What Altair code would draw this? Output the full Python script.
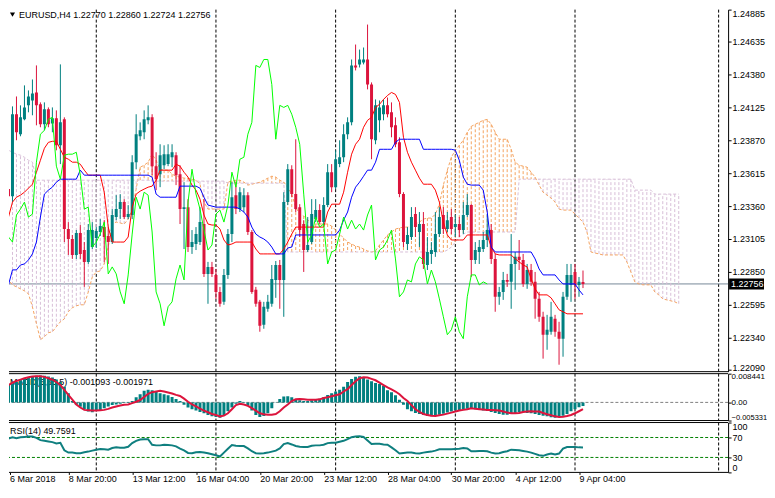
import altair as alt
import pandas as pd

symbol = "EURUSD,H4"

# ---------------- candles (bar index 0 = 6 Mar 2018 04:00, H4) ----------------
opens = [
    1.23600, 1.23492, 1.23437, 1.24073, 1.23918, 1.24034, 1.24142, 1.24180, 1.24242, 1.24150,
    1.23995, 1.24111, 1.24002, 1.24042, 1.23832, 1.24034, 1.23182, 1.23105, 1.22981, 1.23151,
    1.23019, 1.22927, 1.23042, 1.23113, 1.23159, 1.23197, 1.23128, 1.23081, 1.23275, 1.23337,
    1.23391, 1.23275, 1.23291, 1.23701, 1.23902, 1.23933, 1.24026, 1.24049, 1.23670, 1.23608,
    1.23677, 1.23686, 1.23739, 1.23755, 1.23608, 1.23337, 1.23352, 1.23042, 1.23066, 1.23081,
    1.23221, 1.22834, 1.22888, 1.22826, 1.22694, 1.22617, 1.22826, 1.23143, 1.23445, 1.23337,
    1.23352, 1.23445, 1.23159, 1.22710, 1.22617, 1.22439, 1.22563, 1.22602, 1.22787, 1.22903,
    1.22787, 1.23391, 1.23646, 1.23453, 1.23352, 1.23221, 1.23019, 1.23081, 1.23259, 1.23329,
    1.23236, 1.23368, 1.23623, 1.23507, 1.23686, 1.23739, 1.23918, 1.24010, 1.24452, 1.24460,
    1.24475, 1.24498, 1.24304, 1.23871, 1.24026, 1.24073, 1.24142, 1.24088, 1.23987, 1.23855,
    1.23453, 1.23066, 1.23120, 1.23298, 1.23159, 1.23221, 1.22903, 1.22989, 1.23004, 1.23143,
    1.23291, 1.23182, 1.23275, 1.23197, 1.23221, 1.23174, 1.23291, 1.23368, 1.22942, 1.23004,
    1.23027, 1.23097, 1.23174, 1.22950, 1.22656, 1.22694, 1.22787, 1.22772, 1.22911, 1.22966,
    1.22942, 1.22756, 1.22864, 1.22772, 1.22640, 1.22501, 1.22362, 1.22385, 1.22486, 1.22385,
    1.22331, 1.22656, 1.22748, 1.22849, 1.22748, 1.22770,
]
highs = [
    1.23623, 1.23546, 1.24134, 1.24211, 1.24142, 1.24297, 1.24258, 1.24343, 1.24452, 1.24165,
    1.24165, 1.24126, 1.24126, 1.24103, 1.24460, 1.24049, 1.23236, 1.23136, 1.23174, 1.23213,
    1.23081, 1.23221, 1.23236, 1.23197, 1.23259, 1.23251, 1.23197, 1.23337, 1.23445, 1.23453,
    1.23414, 1.23368, 1.23755, 1.24073, 1.24010, 1.24103, 1.24142, 1.24073, 1.23778, 1.23840,
    1.23832, 1.23840, 1.23840, 1.23778, 1.23677, 1.23546, 1.23414, 1.23174, 1.23197, 1.23352,
    1.23414, 1.22927, 1.22927, 1.22872, 1.22733, 1.22872, 1.23182, 1.23546, 1.23546, 1.23507,
    1.23499, 1.23468, 1.23174, 1.22733, 1.22632, 1.22617, 1.22671, 1.22903, 1.22934, 1.22942,
    1.23468, 1.23686, 1.23677, 1.23879, 1.23375, 1.23251, 1.23275, 1.23414, 1.23414, 1.23375,
    1.23429, 1.23686, 1.23686, 1.23793, 1.23871, 1.23995, 1.24049, 1.24498, 1.24614, 1.24575,
    1.24591, 1.24769, 1.24320, 1.24188, 1.24180, 1.24188, 1.24203, 1.24165, 1.24049, 1.23894,
    1.23468, 1.23197, 1.23352, 1.23352, 1.23314, 1.23314, 1.23120, 1.23081, 1.23314, 1.23352,
    1.23352, 1.23314, 1.23337, 1.23291, 1.23275, 1.23391, 1.23453, 1.23375, 1.23081, 1.23097,
    1.23159, 1.23298, 1.23221, 1.22989, 1.22733, 1.22849, 1.22834, 1.23143, 1.23004, 1.23097,
    1.22989, 1.22911, 1.22911, 1.22849, 1.22694, 1.22540, 1.22516, 1.22617, 1.22516, 1.22462,
    1.22694, 1.22911, 1.22911, 1.22911, 1.22810, 1.22860,
]
lows = [
    1.23406, 1.23352, 1.23391, 1.23871, 1.23902, 1.24026, 1.24088, 1.24065, 1.23987, 1.23972,
    1.23948, 1.23972, 1.23933, 1.23793, 1.23686, 1.23081, 1.22981, 1.22950, 1.22950, 1.22950,
    1.22733, 1.22911, 1.23027, 1.23035, 1.23128, 1.22927, 1.22911, 1.23066, 1.23251, 1.23259,
    1.23259, 1.23259, 1.23259, 1.23646, 1.23871, 1.23879, 1.23995, 1.23600, 1.23484, 1.23507,
    1.23646, 1.23670, 1.23662, 1.23523, 1.23221, 1.23027, 1.23004, 1.22989, 1.23019, 1.23058,
    1.22810, 1.22602, 1.22810, 1.22640, 1.22579, 1.22594, 1.22795, 1.23081, 1.23298, 1.23314,
    1.23314, 1.23136, 1.22679, 1.22579, 1.22385, 1.22408, 1.22540, 1.22579, 1.22648, 1.22563,
    1.22501, 1.23368, 1.23429, 1.23314, 1.23120, 1.22849, 1.23004, 1.23066, 1.23236, 1.23221,
    1.23213, 1.23352, 1.23468, 1.23492, 1.23662, 1.23701, 1.23879, 1.23987, 1.24413, 1.24436,
    1.24460, 1.24266, 1.23724, 1.23840, 1.23933, 1.24026, 1.24049, 1.23894, 1.23817, 1.23429,
    1.23042, 1.23019, 1.23097, 1.23120, 1.23042, 1.22872, 1.22864, 1.22911, 1.22966, 1.23120,
    1.23143, 1.23159, 1.23143, 1.23120, 1.23120, 1.23143, 1.23275, 1.22810, 1.22911, 1.22911,
    1.23004, 1.23042, 1.22911, 1.22540, 1.22594, 1.22632, 1.22733, 1.22563, 1.22710, 1.22864,
    1.22733, 1.22718, 1.22741, 1.22486, 1.22462, 1.22176, 1.22245, 1.22362, 1.22346, 1.22129,
    1.22191, 1.22632, 1.22617, 1.22640, 1.22656, 1.22724,
]
closes = [
    1.23429, 1.23437, 1.24073, 1.23933, 1.24049, 1.24126, 1.24211, 1.24234, 1.24142, 1.23995,
    1.24111, 1.23995, 1.24042, 1.23832, 1.24010, 1.23182, 1.23105, 1.22981, 1.23151, 1.22989,
    1.22927, 1.23174, 1.23174, 1.23166, 1.23205, 1.23120, 1.23081, 1.23291, 1.23337, 1.23391,
    1.23275, 1.23298, 1.23701, 1.23918, 1.23948, 1.24034, 1.24049, 1.23670, 1.23569, 1.23755,
    1.23763, 1.23763, 1.23778, 1.23600, 1.23337, 1.23352, 1.23042, 1.23081, 1.23143, 1.23236,
    1.22834, 1.22888, 1.22834, 1.22694, 1.22602, 1.22826, 1.23143, 1.23429, 1.23337, 1.23468,
    1.23445, 1.23159, 1.22694, 1.22602, 1.22431, 1.22579, 1.22617, 1.22795, 1.22903, 1.22787,
    1.23391, 1.23646, 1.23453, 1.23337, 1.23174, 1.23019, 1.23058, 1.23298, 1.23329, 1.23236,
    1.23368, 1.23623, 1.23507, 1.23724, 1.23739, 1.23918, 1.24010, 1.24452, 1.24436, 1.24498,
    1.24498, 1.24304, 1.23879, 1.24142, 1.24126, 1.24142, 1.24073, 1.23972, 1.23840, 1.23453,
    1.23081, 1.23136, 1.23275, 1.23197, 1.23221, 1.22911, 1.23004, 1.23019, 1.23143, 1.23275,
    1.23182, 1.23251, 1.23182, 1.23221, 1.23174, 1.23291, 1.23368, 1.22942, 1.23019, 1.23042,
    1.23097, 1.23174, 1.22950, 1.22656, 1.22694, 1.22787, 1.22772, 1.22911, 1.22966, 1.22942,
    1.22756, 1.22864, 1.22772, 1.22640, 1.22501, 1.22362, 1.22400, 1.22501, 1.22385, 1.22331,
    1.22656, 1.22826, 1.22826, 1.22748, 1.22772, 1.22756,
]

# ---------------- Ichimoku ----------------
tenkan = [
    1.23081, 1.23275, 1.23391, 1.23429, 1.23445, 1.23468, 1.23499, 1.23530, 1.23623, 1.23716,
    1.23809, 1.23855, 1.23863, 1.23863, 1.23801, 1.23739, 1.23724, 1.23701, 1.23701, 1.23685,
    1.23639, 1.23600, 1.23600, 1.23600, 1.23600, 1.23468, 1.23197, 1.23081, 1.23081, 1.23081,
    1.23081, 1.23120, 1.23352, 1.23453, 1.23476, 1.23492, 1.23507, 1.23515, 1.23561, 1.23639,
    1.23639, 1.23639, 1.23639, 1.23685, 1.23670, 1.23623, 1.23585, 1.23523, 1.23484, 1.23414,
    1.23291, 1.23221, 1.23213, 1.23213, 1.23182, 1.23097, 1.23058, 1.23066, 1.23081, 1.23081,
    1.23081, 1.23081, 1.23081, 1.23027, 1.22989, 1.22989, 1.22989, 1.22989, 1.22989, 1.22989,
    1.23027, 1.23081, 1.23143, 1.23197, 1.23197, 1.23197, 1.23197, 1.23197, 1.23197, 1.23197,
    1.23197, 1.23314, 1.23375, 1.23375, 1.23375, 1.23468, 1.23623, 1.23763, 1.23840, 1.23879,
    1.23972, 1.24026, 1.24049, 1.24126, 1.24150, 1.24188, 1.24219, 1.24242, 1.24227, 1.24165,
    1.23894, 1.23778, 1.23701, 1.23639, 1.23577, 1.23530, 1.23530, 1.23530, 1.23484, 1.23391,
    1.23236, 1.23136, 1.23097, 1.23097, 1.23097, 1.23097, 1.23136, 1.23136, 1.23136, 1.23136,
    1.23136, 1.23136, 1.23042, 1.22989, 1.22981, 1.22981, 1.22981, 1.22981, 1.22950, 1.22927,
    1.22903, 1.22888, 1.22795, 1.22718, 1.22671, 1.22671, 1.22671, 1.22648, 1.22602, 1.22555,
    1.22540, 1.22524, 1.22524, 1.22524, 1.22524, 1.22524,
]
kijun = [
    1.22594, 1.22749, 1.22865, 1.22865, 1.22903, 1.22911, 1.22942, 1.22989, 1.23081, 1.23275,
    1.23453, 1.23484, 1.23507, 1.23546, 1.23569, 1.23569, 1.23569, 1.23569, 1.23569, 1.23639,
    1.23600, 1.23600, 1.23600, 1.23600, 1.23600, 1.23600, 1.23600, 1.23600, 1.23600, 1.23600,
    1.23600, 1.23600, 1.23600, 1.23600, 1.23600, 1.23600, 1.23600, 1.23585, 1.23453, 1.23429,
    1.23429, 1.23429, 1.23429, 1.23429, 1.23515, 1.23515, 1.23515, 1.23515, 1.23515, 1.23499,
    1.23429, 1.23368, 1.23360, 1.23352, 1.23352, 1.23352, 1.23352, 1.23352, 1.23352, 1.23337,
    1.23314, 1.23275, 1.23197, 1.23143, 1.23120, 1.23105, 1.23081, 1.23042, 1.22989, 1.22989,
    1.22989, 1.23035, 1.23042, 1.23136, 1.23136, 1.23136, 1.23136, 1.23136, 1.23136, 1.23136,
    1.23136, 1.23136, 1.23136, 1.23136, 1.23174, 1.23252, 1.23314, 1.23429, 1.23507, 1.23546,
    1.23592, 1.23639, 1.23639, 1.23701, 1.23801, 1.23801, 1.23801, 1.23801, 1.23855, 1.23879,
    1.23879, 1.23879, 1.23879, 1.23879, 1.23879, 1.23801, 1.23801, 1.23801, 1.23801, 1.23801,
    1.23801, 1.23801, 1.23801, 1.23794, 1.23716, 1.23585, 1.23530, 1.23523, 1.23523, 1.23523,
    1.23484, 1.23314, 1.23042, 1.23004, 1.23004, 1.23004, 1.23004, 1.23004, 1.23004, 1.23004,
    1.23004, 1.23004, 1.23004, 1.22950, 1.22872, 1.22826, 1.22826, 1.22826, 1.22826, 1.22787,
    1.22756, 1.22756, 1.22756, 1.22756, 1.22710, 1.22671,
]
chikou = [
    1.23205, 1.23120, 1.23081, 1.23291, 1.23337, 1.23391, 1.23275, 1.23298, 1.23701, 1.23918,
    1.23948, 1.24034, 1.24049, 1.23670, 1.23569, 1.23755, 1.23763, 1.23763, 1.23778, 1.23600,
    1.23337, 1.23352, 1.23042, 1.23081, 1.23143, 1.23236, 1.22834, 1.22888, 1.22834, 1.22694,
    1.22602, 1.22826, 1.23143, 1.23429, 1.23337, 1.23468, 1.23445, 1.23159, 1.22694, 1.22602,
    1.22431, 1.22579, 1.22617, 1.22795, 1.22903, 1.22787, 1.23391, 1.23646, 1.23453, 1.23337,
    1.23174, 1.23019, 1.23058, 1.23298, 1.23329, 1.23236, 1.23368, 1.23623, 1.23507, 1.23724,
    1.23739, 1.23918, 1.24010, 1.24452, 1.24436, 1.24498, 1.24498, 1.24304, 1.23879, 1.24142,
    1.24126, 1.24142, 1.24073, 1.23972, 1.23840, 1.23453, 1.23081, 1.23136, 1.23275, 1.23197,
    1.23221, 1.22911, 1.23004, 1.23019, 1.23143, 1.23275, 1.23182, 1.23251, 1.23182, 1.23221,
    1.23174, 1.23291, 1.23368, 1.22942, 1.23019, 1.23042, 1.23097, 1.23174, 1.22950, 1.22656,
    1.22694, 1.22787, 1.22772, 1.22911, 1.22966, 1.22942, 1.22756, 1.22864, 1.22772, 1.22640,
    1.22501, 1.22362, 1.22400, 1.22501, 1.22385, 1.22331, 1.22656, 1.22826, 1.22826, 1.22748,
    1.22772, 1.22756,
]
senkou_a = [
    1.22834, 1.22787, 1.22749, 1.22733, 1.22718, 1.22702, 1.22679, 1.22578, 1.22447, 1.22323,
    1.22346, 1.22377, 1.22385, 1.22424, 1.22462, 1.22485, 1.22540, 1.22571, 1.22586, 1.22594,
    1.22594, 1.22694, 1.22810, 1.22849, 1.22857, 1.22911, 1.23042, 1.23221, 1.23236, 1.23229,
    1.23221, 1.23259, 1.23337, 1.23492, 1.23662, 1.23677, 1.23701, 1.23763, 1.23716, 1.23646,
    1.23639, 1.23639, 1.23608, 1.23592, 1.23585, 1.23577, 1.23577, 1.23569, 1.23561, 1.23530,
    1.23391, 1.23337, 1.23337, 1.23337, 1.23337, 1.23337, 1.23546, 1.23554, 1.23561, 1.23561,
    1.23546, 1.23523, 1.23530, 1.23538, 1.23546, 1.23561, 1.23577, 1.23592, 1.23585, 1.23561,
    1.23546, 1.23507, 1.23453, 1.23352, 1.23298, 1.23283, 1.23252, 1.23236, 1.23221, 1.23221,
    1.23221, 1.23221, 1.23205, 1.23174, 1.23143, 1.23112, 1.23081, 1.23066, 1.23050, 1.23042,
    1.23027, 1.23012, 1.23004, 1.23012, 1.23058, 1.23097, 1.23136, 1.23159, 1.23182, 1.23190,
    1.23197, 1.23197, 1.23205, 1.23221, 1.23236, 1.23259, 1.23267, 1.23267, 1.23298, 1.23375,
    1.23523, 1.23639, 1.23739, 1.23794, 1.23832, 1.23871, 1.23933, 1.23979, 1.23995, 1.24010,
    1.24026, 1.24033, 1.23995, 1.23933, 1.23879, 1.23879, 1.23879, 1.23801, 1.23701, 1.23677,
    1.23670, 1.23662, 1.23623, 1.23585, 1.23523, 1.23468, 1.23445, 1.23422, 1.23391, 1.23337,
    1.23329, 1.23329, 1.23329, 1.23298, 1.23267, 1.23236, 1.23159, 1.23004, 1.22996, 1.22989,
    1.22981, 1.22981, 1.22981, 1.22981, 1.22981, 1.22981, 1.22927, 1.22849, 1.22772, 1.22756,
    1.22749, 1.22749, 1.22749, 1.22694, 1.22671, 1.22640, 1.22632, 1.22625, 1.22617, 1.22602,
]
senkou_b = [
    1.23801, 1.23794, 1.23778, 1.23763, 1.23755, 1.23739, 1.23716, 1.23701, 1.23561, 1.23561,
    1.23561, 1.23561, 1.23561, 1.23561, 1.23561, 1.23561, 1.23561, 1.23561, 1.23561, 1.23561,
    1.23561, 1.23561, 1.23561, 1.23561, 1.23561, 1.23561, 1.23561, 1.23561, 1.23561, 1.23561,
    1.23561, 1.23561, 1.23561, 1.23561, 1.23561, 1.23561, 1.23561, 1.23554, 1.23554, 1.23554,
    1.23554, 1.23554, 1.23554, 1.23554, 1.23554, 1.23554, 1.23554, 1.23554, 1.23554, 1.23554,
    1.23554, 1.23554, 1.23554, 1.23554, 1.23554, 1.23554, 1.23538, 1.23538, 1.23538, 1.23538,
    1.23538, 1.23538, 1.23538, 1.23538, 1.23538, 1.23538, 1.23538, 1.23538, 1.23538, 1.23538,
    1.23538, 1.23004, 1.23004, 1.23004, 1.23004, 1.23004, 1.23004, 1.23004, 1.23004, 1.23004,
    1.23004, 1.23004, 1.23004, 1.23004, 1.23004, 1.23004, 1.23004, 1.23004, 1.23004, 1.23004,
    1.23004, 1.23004, 1.23004, 1.23004, 1.23004, 1.23004, 1.23004, 1.23004, 1.23004, 1.23004,
    1.23004, 1.23004, 1.23004, 1.23004, 1.23004, 1.23004, 1.23004, 1.23004, 1.23004, 1.23004,
    1.23004, 1.23019, 1.23042, 1.23081, 1.23120, 1.23143, 1.23159, 1.23159, 1.23159, 1.23159,
    1.23159, 1.23159, 1.23159, 1.23159, 1.23159, 1.23159, 1.23159, 1.23159, 1.23159, 1.23569,
    1.23569, 1.23569, 1.23569, 1.23569, 1.23569, 1.23569, 1.23569, 1.23569, 1.23569, 1.23569,
    1.23569, 1.23569, 1.23569, 1.23569, 1.23569, 1.23569, 1.23569, 1.23569, 1.23569, 1.23569,
    1.23569, 1.23569, 1.23569, 1.23569, 1.23569, 1.23569, 1.23569, 1.23569, 1.23484, 1.23484,
    1.23484, 1.23484, 1.23484, 1.23453, 1.23453, 1.23453, 1.23453, 1.23453, 1.23453, 1.23453,
]

# ---------------- MACD(5,35,5) ----------------
macd_main = [
    0.0046, 0.0051, 0.0055, 0.0060, 0.0065, 0.0069, 0.0072, 0.0075, 0.0078, 0.0079,
    0.0078, 0.0076, 0.0073, 0.0067, 0.0060, 0.0046, 0.0027, 0.0004, -0.0007, -0.0013,
    -0.0020, -0.0027, -0.0029, -0.0025, -0.0022, -0.0017, -0.0012, -0.0008, -0.0006, -0.0004,
    -0.0002, 0.0001, 0.0004, 0.0015, 0.0024, 0.0034, 0.0037, 0.0036, 0.0031, 0.0027,
    0.0024, 0.0021, 0.0016, 0.0010, 0.0004, -0.0007, -0.0015, -0.0020, -0.0024, -0.0028,
    -0.0032, -0.0037, -0.0041, -0.0043, -0.0045, -0.0038, -0.0026, -0.0015, -0.0004, 0.0004,
    0.0001, -0.0010, -0.0024, -0.0037, -0.0043, -0.0040, -0.0032, -0.0017, -0.0001, 0.0010,
    0.0017, 0.0018, 0.0015, 0.0009, 0.0006, 0.0004, 0.0004, 0.0006, 0.0008, 0.0011,
    0.0015, 0.0022, 0.0027, 0.0032, 0.0037, 0.0046, 0.0060, 0.0069, 0.0075, 0.0077,
    0.0072, 0.0067, 0.0062, 0.0057, 0.0054, 0.0049, 0.0036, 0.0030, 0.0021, 0.0008,
    -0.0007, -0.0020, -0.0026, -0.0031, -0.0034, -0.0037, -0.0040, -0.0041, -0.0039, -0.0036,
    -0.0033, -0.0030, -0.0027, -0.0024, -0.0022, -0.0020, -0.0019, -0.0019, -0.0020, -0.0022,
    -0.0024, -0.0025, -0.0028, -0.0031, -0.0034, -0.0036, -0.0036, -0.0034, -0.0031, -0.0029,
    -0.0029, -0.0031, -0.0032, -0.0034, -0.0037, -0.0039, -0.0041, -0.0044, -0.0045, -0.0044,
    -0.0039, -0.0034, -0.0026, -0.0020, -0.0014, -0.001093,
]
macd_signal = [
    0.0041, 0.0051, 0.0058, 0.0063, 0.0067, 0.0071, 0.0074, 0.0076, 0.0077, 0.0077,
    0.0075, 0.0071, 0.0067, 0.0060, 0.0051, 0.0037, 0.0022, 0.0008, -0.0006, -0.0015,
    -0.0022, -0.0023, -0.0024, -0.0024, -0.0023, -0.0022, -0.0019, -0.0015, -0.0012, -0.0009,
    -0.0007, -0.0006, -0.0002, 0.0002, 0.0007, 0.0016, 0.0025, 0.0030, 0.0032, 0.0034,
    0.0032, 0.0029, 0.0026, 0.0022, 0.0019, 0.0011, 0.0002, -0.0006, -0.0012, -0.0018,
    -0.0024, -0.0029, -0.0034, -0.0037, -0.0041, -0.0039, -0.0032, -0.0020, -0.0008, -0.0004,
    -0.0006, -0.0010, -0.0017, -0.0024, -0.0032, -0.0035, -0.0036, -0.0036, -0.0034, -0.0026,
    -0.0015, -0.0006, 0.0004, 0.0009, 0.0010, 0.0009, 0.0008, 0.0008, 0.0008, 0.0009,
    0.0013, 0.0015, 0.0018, 0.0021, 0.0024, 0.0032, 0.0039, 0.0051, 0.0062, 0.0071,
    0.0074, 0.0073, 0.0069, 0.0065, 0.0058, 0.0051, 0.0044, 0.0038, 0.0032, 0.0024,
    0.0013, 0.0004, -0.0008, -0.0020, -0.0028, -0.0034, -0.0037, -0.0039, -0.0040, -0.0038,
    -0.0036, -0.0033, -0.0030, -0.0027, -0.0024, -0.0022, -0.0020, -0.0017, -0.0019, -0.0020,
    -0.0021, -0.0022, -0.0022, -0.0023, -0.0024, -0.0027, -0.0030, -0.0032, -0.0032, -0.0031,
    -0.0028, -0.0027, -0.0026, -0.0027, -0.0027, -0.0031, -0.0035, -0.0038, -0.0041, -0.0043,
    -0.0042, -0.0040, -0.0037, -0.0032, -0.0026, -0.001971,
]
macd_max = 0.008441
macd_min = -0.005331

# ---------------- RSI(14) ----------------
rsi = [
    65.3, 68.0, 70.6, 68.6, 70.6, 71.2, 71.9, 71.9, 69.3, 64.7,
    63.3, 62.0, 60.7, 58.1, 59.4, 44.3, 39.7, 39.7, 38.4, 38.4,
    40.4, 41.7, 43.7, 45.6, 46.9, 46.3, 45.6, 48.9, 50.2, 49.6,
    49.6, 51.5, 58.7, 63.3, 66.0, 66.6, 66.6, 55.5, 54.2, 54.2,
    55.5, 54.8, 54.2, 52.2, 47.6, 44.3, 39.1, 38.4, 40.4, 41.0,
    39.7, 38.4, 36.5, 34.5, 31.9, 39.7, 47.6, 54.8, 53.5, 52.9,
    52.9, 48.2, 42.4, 38.4, 37.8, 38.4, 39.7, 41.7, 43.7, 48.2,
    56.8, 58.7, 56.1, 52.9, 51.5, 50.9, 50.9, 53.5, 54.2, 54.2,
    55.5, 58.7, 59.4, 59.4, 61.4, 63.3, 66.6, 70.6, 71.9, 72.5,
    71.2, 64.0, 56.8, 57.4, 57.4, 56.1, 55.5, 50.2, 44.3, 37.8,
    39.1, 39.7, 39.7, 38.4, 37.8, 39.7, 41.0, 41.7, 43.7, 46.3,
    46.3, 46.3, 46.3, 46.9, 47.6, 48.9, 48.0, 42.4, 42.4, 43.0,
    43.0, 42.4, 39.7, 37.8, 38.4, 41.0, 42.4, 45.6, 45.0, 44.3,
    43.0, 41.7, 39.7, 37.1, 34.5, 33.2, 35.8, 37.8, 35.8, 37.8,
    47.6, 50.9, 50.9, 50.9, 50.2, 49.7591,
]
rsi_levels = [70, 30]
rsi_ticks = [100, 70, 30, 0]

# ---------------- axes / annotations ----------------
price_ticks = [1.24885, 1.24635, 1.24380, 1.24125, 1.23870, 1.23615,
               1.23360, 1.23105, 1.22850, 1.22595, 1.22340, 1.22090]
price_top = 1.24885
price_bottom = 1.22075
time_labels = ["6 Mar 2018", "8 Mar 20:00", "13 Mar 12:00", "16 Mar 04:00",
               "20 Mar 20:00", "23 Mar 12:00", "28 Mar 04:00", "30 Mar 20:00",
               "4 Apr 12:00", "9 Apr 04:00"]
time_idx = [1.25, 16, 32, 48, 64, 80, 96, 112, 128, 144]   # first label sits at the left edge
separator_idx = [23, 53, 83, 113, 143, 179]

# ---------------- build ----------------
FONT = "Liberation Sans"
FS = 9
W = 721
H_MAIN, H_MACD, H_RSI = 363, 47, 50
X0 = 1.125
X1 = X0 + W / 4.0

n = len(opens)
idx = list(range(n))
cdf = pd.DataFrame({"i": idx, "open": opens, "high": highs, "low": lows, "close": closes})
up = cdf[cdf["close"] >= cdf["open"]]
dn = cdf[cdf["close"] < cdf["open"]]
ichi = pd.DataFrame({"i": idx, "tenkan": tenkan, "kijun": kijun})
chik = pd.DataFrame({"i": list(range(len(chikou))), "chikou": chikou})
cloud = pd.DataFrame({"i": list(range(len(senkou_a))), "a": senkou_a, "b": senkou_b})
cloud_up = cloud[cloud["a"] >= cloud["b"]]
cloud_dn = cloud[cloud["a"] < cloud["b"]]
seps = pd.DataFrame({"i": separator_idx})
last = pd.DataFrame({"price": [closes[-1]], "label": [f"{closes[-1]:.5f}"]})
header = pd.DataFrame({"t": [f"{symbol}  {opens[-1]:.5f} {highs[-1]:.5f} {lows[-1]:.5f} {closes[-1]:.5f}"]})
one = pd.DataFrame({"k": [0]})
main_border = pd.DataFrame({"v": [price_bottom]})

xs = alt.Scale(domain=[X0, X1], nice=False, zero=False, padding=0)
ps = alt.Scale(domain=[price_bottom, price_top], nice=False, zero=False, padding=0)
ms = alt.Scale(domain=[macd_min, macd_max], nice=False, zero=False, padding=0)
rs = alt.Scale(domain=[0, 100], nice=False, zero=False, padding=0)

common_axis = dict(orient="right", title=None, grid=False, domain=True, domainColor="black",
                   domainWidth=1, tickSize=3, tickColor="black", labelColor="black",
                   labelFont=FONT, labelOverlap=False, labelFlush=True)
paxis = alt.Axis(values=price_ticks, format=".5f", labelFontSize=FS, labelPadding=1,
                 labelOffset={"condition": {"test": "datum.value < 1.221", "value": -2}, "value": 0},
                 **common_axis)
maxis = alt.Axis(values=[macd_max, 0.0, macd_min],
                 labelExpr="datum.value == 0 ? '0.00' : format(datum.value, '.6f')",
                 labelFontSize={"condition": {"test": "datum.value < 0", "value": 7.5}, "value": 8},
                 labelFlushOffset=1, labelPadding=0, **common_axis)
raxis = alt.Axis(values=rsi_ticks, format="d", labelFontSize=FS, labelPadding=1, **common_axis)

lab_arr = "[" + ",".join(f"'{t}'" for t in time_labels) + "]"
idx_arr = "[" + ",".join(str(v) for v in time_idx) + "]"
xaxis = alt.Axis(values=time_idx, labelExpr=f"{lab_arr}[indexof({idx_arr}, datum.value)]",
                 labelAlign="left", labelFlush=False, tickSize=2, tickColor="black",
                 labelPadding=0, domain=False, grid=False, title=None,
                 labelFont=FONT, labelFontSize=FS, labelColor="black", labelOverlap=False)


def X():
    return alt.X("i:Q", scale=xs, axis=None)


def P(f):
    return alt.Y(f"{f}:Q", scale=ps, axis=paxis)


DASH = [3, 2]
sep_main = alt.Chart(seps).mark_rule(color="black", strokeDash=DASH, strokeWidth=1).encode(x=X())
border_main = alt.Chart(main_border).mark_rule(color="black", strokeWidth=1).encode(y=P("v"))
price_line = alt.Chart(last).mark_rule(color="#778899", strokeWidth=1).encode(y=P("price"))
cloud_u = alt.Chart(cloud_up).mark_rule(color="#F4A460", strokeDash=DASH, strokeWidth=1, clip=True).encode(
    x=X(), y=P("a"), y2="b:Q")
cloud_d = alt.Chart(cloud_dn).mark_rule(color="#D8BFD8", strokeDash=DASH, strokeWidth=1, clip=True).encode(
    x=X(), y=P("a"), y2="b:Q")
line_a = alt.Chart(cloud).mark_line(color="#F4A460", strokeDash=DASH, strokeWidth=1, clip=True).encode(
    x=X(), y=P("a"))
line_b = alt.Chart(cloud).mark_line(color="#D8BFD8", strokeDash=DASH, strokeWidth=1, clip=True).encode(
    x=X(), y=P("b"))
wick_up = alt.Chart(up).mark_rule(color="#008080", strokeWidth=1, clip=True).encode(
    x=X(), y=P("low"), y2="high:Q")
wick_dn = alt.Chart(dn).mark_rule(color="#DC143C", strokeWidth=1, clip=True).encode(
    x=X(), y=P("low"), y2="high:Q")
body_up = alt.Chart(up).mark_bar(color="#008080", size=3, clip=True).encode(
    x=X(), y=P("open"), y2="close:Q")
body_dn = alt.Chart(dn).mark_bar(color="#DC143C", size=3, clip=True).encode(
    x=X(), y=P("open"), y2="close:Q")
l_tenkan = alt.Chart(ichi).mark_line(color="#FF0000", strokeWidth=1, clip=True).encode(x=X(), y=P("tenkan"))
l_kijun = alt.Chart(ichi).mark_line(color="#0000FF", strokeWidth=1, clip=True).encode(x=X(), y=P("kijun"))
l_chikou = alt.Chart(chik).mark_line(color="#00FF00", strokeWidth=1, clip=True).encode(x=X(), y=P("chikou"))
tag_box = alt.Chart(last).mark_rect(color="black", height=11).encode(
    x=alt.value(W + 1), x2=alt.value(W + 36), y=P("price"))
tag_txt = alt.Chart(last).mark_text(color="white", font=FONT, fontSize=FS, align="left",
                                    baseline="middle").encode(
    x=alt.value(W + 3), y=P("price"), text="label:N")
head_tri = alt.Chart(one).mark_point(shape="triangle-down", filled=True, color="black",
                                     size=26, opacity=1).encode(x=alt.value(3.5), y=alt.value(5))
head_txt = alt.Chart(header).mark_text(align="left", baseline="middle", font=FONT, fontSize=FS,
                                       color="black").encode(x=alt.value(10), y=alt.value(5), text="t:N")

main = alt.layer(sep_main, price_line, cloud_u, cloud_d, line_a, line_b,
                 wick_up, wick_dn, body_up, body_dn, l_tenkan, l_kijun, l_chikou,
                 border_main, tag_box, tag_txt, head_tri, head_txt).properties(width=W, height=H_MAIN)

# MACD panel
mdf = pd.DataFrame({"i": idx, "macd": macd_main, "signal": macd_signal, "zero": [0.0] * n})
zero_df = pd.DataFrame({"v": [0.0]})
macd_border = pd.DataFrame({"v": [macd_max, macd_min]})
macd_txt = pd.DataFrame({"t": [f"MACD(5,35,5) {macd_main[-1]:.6f} {macd_signal[-1]:.6f}"]})


def M(f):
    return alt.Y(f"{f}:Q", scale=ms, axis=maxis)


macd = alt.layer(
    alt.Chart(seps).mark_rule(color="black", strokeDash=DASH, strokeWidth=1).encode(x=X()),
    alt.Chart(zero_df).mark_rule(color="#808080", strokeDash=DASH, strokeWidth=1).encode(y=M("v")),
    alt.Chart(macd_txt).mark_text(align="left", baseline="middle", font=FONT, fontSize=FS,
                                  color="black").encode(x=alt.value(1), y=alt.value(8), text="t:N"),
    alt.Chart(mdf).mark_bar(color="#008080", size=3, clip=True).encode(x=X(), y=M("macd"), y2="zero:Q"),
    alt.Chart(mdf).mark_line(color="#DC143C", strokeWidth=2, clip=True).encode(x=X(), y=M("signal")),
    alt.Chart(macd_border).mark_rule(color="black", strokeWidth=1).encode(y=M("v")),
).properties(width=W, height=H_MACD)

# RSI panel
rdf = pd.DataFrame({"i": idx, "rsi": rsi})
lvl_df = pd.DataFrame({"v": rsi_levels})
rsi_border = pd.DataFrame({"v": [100, 0]})
rsi_txt = pd.DataFrame({"t": [f"RSI(14) {rsi[-1]:.4f}"]})


def XR():
    return alt.X("i:Q", scale=xs, axis=xaxis)


def R(f):
    return alt.Y(f"{f}:Q", scale=rs, axis=raxis)


rsi_panel = alt.layer(
    alt.Chart(seps).mark_rule(color="black", strokeDash=DASH, strokeWidth=1).encode(x=XR()),
    alt.Chart(lvl_df).mark_rule(color="#008000", strokeDash=DASH, strokeWidth=1).encode(y=R("v")),
    alt.Chart(rsi_txt).mark_text(align="left", baseline="middle", font=FONT, fontSize=FS,
                                 color="black").encode(x=alt.value(1), y=alt.value(8), text="t:N"),
    alt.Chart(rdf).mark_line(color="#0F7F7F", strokeWidth=2, clip=True).encode(x=XR(), y=R("rsi")),
    alt.Chart(rsi_border).mark_rule(color="black", strokeWidth=1).encode(y=R("v")),
).properties(width=W, height=H_RSI)

chart = alt.vconcat(main, macd, rsi_panel, spacing=2, bounds="flush").properties(
    padding=0,
    background="white",
).configure_view(strokeWidth=0)

chart.save("out.html", embed_options={"renderer": "svg", "actions": False})
